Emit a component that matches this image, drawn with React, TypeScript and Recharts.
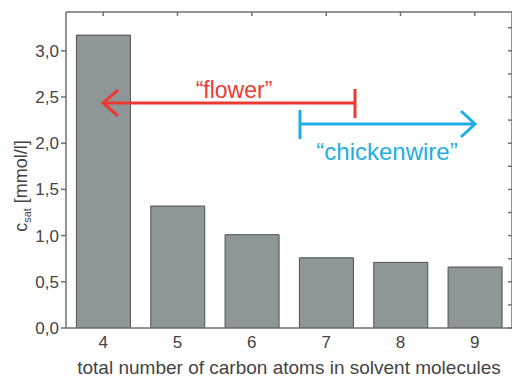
import { BarChart, Bar, XAxis, YAxis, Label } from "recharts"

const carbonAtoms = ["4", "5", "6", "7", "8", "9"]
const cSat = [3.17, 1.32, 1.01, 0.76, 0.71, 0.66]
const yTicks = [0, 0.5, 1.0, 1.5, 2.0, 2.5, 3.0]
const yMinorTicks = [0, 0.25, 0.5, 0.75, 1.0, 1.25, 1.5, 1.75, 2.0, 2.25, 2.5, 2.75, 3.0, 3.25]

const data = carbonAtoms.map((n, i) => ({ n, c: cSat[i] }))

const AXIS = "#707070"
const RED = "#ec3a32"
const CYAN = "#1eaee6"
const FONT = "Liberation Sans, Arial, sans-serif"

export default function App() {
    return (
        <div style={{ position: "absolute", left: 0, top: 0, width: 512, height: 379, background: "#fff", fontFamily: FONT }}>
            <BarChart width={512} height={379} data={data} margin={{ top: 12, right: 0, left: 0, bottom: 0 }} barCategoryGap="14%">
                <XAxis dataKey="n" height={51} stroke={AXIS} strokeWidth={1.5} tickLine={false} tickSize={6}
                    tick={{ fontSize: 17, fill: "#444", fontFamily: FONT }}>
                    <Label value="total number of carbon atoms in solvent molecules" position="insideBottom" offset={5}
                        style={{ fontSize: 19, fill: "#444", fontFamily: FONT }} />
                </XAxis>
                <XAxis xAxisId="top" dataKey="n" orientation="top" height={1} mirror stroke={AXIS} strokeWidth={1.5}
                    tickSize={4} tickFormatter={() => ""} />
                <YAxis width={66} domain={[0, 3.42]} ticks={yTicks} allowDataOverflow stroke={AXIS} strokeWidth={1.5}
                    tickSize={5} tickFormatter={(v: number) => v.toFixed(1).replace(".", ",")}
                    tick={{ fontSize: 17, fill: "#444", fontFamily: FONT }} />
                <YAxis yAxisId="right" orientation="right" width={1} mirror domain={[0, 3.42]} ticks={yMinorTicks}
                    allowDataOverflow stroke={AXIS} strokeWidth={1.5} tickSize={4} tickFormatter={() => ""} />
                <Bar dataKey="c" fill="#8e9698" stroke="#505050" strokeWidth={1} isAnimationActive={false} />
            </BarChart>
            <svg width={512} height={379} style={{ position: "absolute", left: 0, top: 0, pointerEvents: "none" }}>
                <text transform="translate(27,186) rotate(-90)" textAnchor="middle" fontSize={18} fill="#444" fontFamily={FONT}>
                    c<tspan fontSize={11} dy={4}>sat</tspan>
                    <tspan dy={-4}> [mmol/l]</tspan>
                </text>
                <g stroke={RED} strokeWidth={3} fill="none">
                    <line x1={103} y1={103} x2={355} y2={103} />
                    <polyline points="118,90 103,103 118,116" />
                    <line x1={355} y1={89} x2={355} y2={118} />
                </g>
                <text x={234} y={98} textAnchor="middle" fontSize={23} fill={RED} fontFamily={FONT}>“flower”</text>
                <g stroke={CYAN} strokeWidth={3} fill="none">
                    <line x1={300} y1={124} x2={475} y2={124} />
                    <polyline points="461,111 475,124 461,137" />
                    <line x1={300} y1={110} x2={300} y2={139} />
                </g>
                <text x={387} y={160} textAnchor="middle" fontSize={24} fill={CYAN} fontFamily={FONT}>“chickenwire”</text>
            </svg>
        </div>
    )
}
